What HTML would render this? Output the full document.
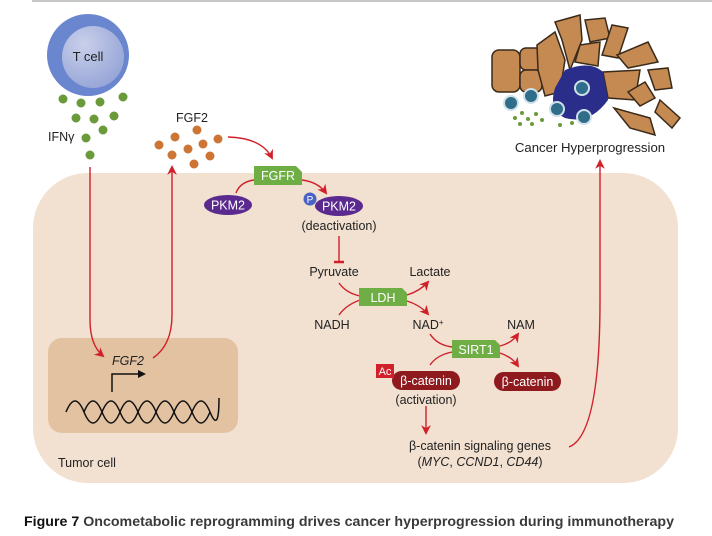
<!DOCTYPE html>
<html><head><meta charset="utf-8"><style>
html,body{margin:0;padding:0;background:#fff;}
svg{display:block;font-family:"Liberation Sans",Arial,sans-serif;}
</style></head><body>
<svg width="712" height="536" viewBox="0 0 712 536" xmlns="http://www.w3.org/2000/svg">
<defs>
<radialGradient id="tg" cx="0.35" cy="0.3" r="0.8"><stop offset="0" stop-color="#c9d0ea"/><stop offset="1" stop-color="#93a2d6"/></radialGradient>
<marker id="ah" viewBox="0 0 10 10" refX="8" refY="5" markerWidth="7" markerHeight="7" orient="auto-start-reverse"><path d="M0,0 L10,5 L0,10 L3,5 z" fill="#d0202a"/></marker>
</defs>
<line x1="32" y1="1" x2="712" y2="1" stroke="#c8c8c8" stroke-width="2"/>
<rect x="33" y="173" width="645" height="310" rx="55" fill="#f2e0d0"/>
<rect x="48" y="338" width="190" height="95" rx="14" fill="#e3c2a1"/>
<circle cx="88" cy="55" r="41" fill="#6a86cf"/>
<circle cx="93" cy="57" r="31" fill="url(#tg)"/>
<text x="88" y="61" font-size="13" text-anchor="middle" fill="#222">T cell</text>
<g fill="#6a9a3a">
<circle cx="63" cy="99" r="4.5"/><circle cx="81" cy="103" r="4.5"/><circle cx="100" cy="102" r="4.5"/><circle cx="123" cy="97" r="4.5"/>
<circle cx="76" cy="118" r="4.5"/><circle cx="94" cy="119" r="4.5"/><circle cx="114" cy="116" r="4.5"/><circle cx="103" cy="130" r="4.5"/>
<circle cx="86" cy="138" r="4.5"/><circle cx="90" cy="155" r="4.5"/>
</g>
<text x="48" y="141" font-size="12.5" fill="#222">IFNγ</text>
<text x="176" y="122" font-size="12.5" fill="#222">FGF2</text>
<g fill="#cc7535">
<circle cx="175" cy="137" r="4.5"/><circle cx="197" cy="130" r="4.5"/><circle cx="218" cy="139" r="4.5"/><circle cx="159" cy="145" r="4.5"/>
<circle cx="188" cy="149" r="4.5"/><circle cx="203" cy="144" r="4.5"/><circle cx="172" cy="155" r="4.5"/><circle cx="210" cy="156" r="4.5"/><circle cx="194" cy="164" r="4.5"/>
</g>
<g fill="none" stroke="#d0202a" stroke-width="1.4">
<path d="M228,137 Q262,138 272,158" marker-end="url(#ah)"/>
<path d="M90,167 L90,320 Q90,345 103,356" marker-end="url(#ah)"/>
<path d="M153,358 Q172,345 172,315 L172,167" marker-end="url(#ah)"/>
<path d="M254,180 Q240,182 236,193"/>
<path d="M302,180 Q318,182 326,193" marker-end="url(#ah)"/>
<path d="M339,236 L339,262"/>
<path d="M334,262 L344,262" stroke-width="2.5"/>
<path d="M339,283 Q346,293 360,296"/>
<path d="M339,315 Q346,305 360,300"/>
<path d="M407,295 Q420,291 428,282" marker-end="url(#ah)"/>
<path d="M407,301 Q420,305 428,314" marker-end="url(#ah)"/>
<path d="M430,334 Q437,345 452,347"/>
<path d="M430,365 Q437,355 452,352"/>
<path d="M500,346 Q512,343 518,334" marker-end="url(#ah)"/>
<path d="M500,353 Q512,357 518,366" marker-end="url(#ah)"/>
<path d="M426,406 L426,433" marker-end="url(#ah)"/>
<path d="M569,447 Q600,435 600,300 L600,161" marker-end="url(#ah)"/>
</g>
<path d="M254,166 H296 L302,172 V185 H254 Z" fill="#6fae45"/>
<text x="278" y="180" font-size="12.5" fill="#fff" text-anchor="middle">FGFR</text>
<ellipse cx="228" cy="205" rx="24" ry="10" fill="#5b2a8e"/>
<text x="228" y="209.5" font-size="12.5" fill="#fff" text-anchor="middle">PKM2</text>
<ellipse cx="339" cy="206" rx="24" ry="10" fill="#5b2a8e"/>
<text x="339" y="210.5" font-size="12.5" fill="#fff" text-anchor="middle">PKM2</text>
<circle cx="310" cy="199" r="6.5" fill="#4a62c6"/>
<text x="310" y="203" font-size="10" fill="#fff" text-anchor="middle">P</text>
<text x="339" y="230" font-size="12.5" fill="#222" text-anchor="middle">(deactivation)</text>
<text x="334" y="276" font-size="12.5" fill="#222" text-anchor="middle">Pyruvate</text>
<text x="430" y="276" font-size="12.5" fill="#222" text-anchor="middle">Lactate</text>
<path d="M359,288 H402 L407,293 V306 H359 Z" fill="#6fae45"/>
<text x="383" y="302" font-size="12.5" fill="#fff" text-anchor="middle">LDH</text>
<text x="332" y="329" font-size="12.5" fill="#222" text-anchor="middle">NADH</text>
<text x="428" y="329" font-size="12.5" fill="#222" text-anchor="middle">NAD<tspan font-size="8" dy="-4">+</tspan></text>
<text x="521" y="329" font-size="12.5" fill="#222" text-anchor="middle">NAM</text>
<path d="M452,340 H495 L500,345 V358 H452 Z" fill="#6fae45"/>
<text x="476" y="354" font-size="12.5" fill="#fff" text-anchor="middle">SIRT1</text>
<rect x="392" y="371" width="68" height="19" rx="9.5" fill="#8e1a1e"/>
<text x="426" y="385" font-size="12.5" fill="#fff" text-anchor="middle">β-catenin</text>
<rect x="376" y="364" width="18" height="14" fill="#d0202a"/>
<text x="385" y="375" font-size="11" fill="#fff" text-anchor="middle">Ac</text>
<rect x="494" y="372" width="67" height="19" rx="9.5" fill="#8e1a1e"/>
<text x="527.5" y="386" font-size="12.5" fill="#fff" text-anchor="middle">β-catenin</text>
<text x="426" y="404" font-size="12.5" fill="#222" text-anchor="middle">(activation)</text>
<text x="480" y="450" font-size="12.5" fill="#222" text-anchor="middle">β-catenin signaling genes</text>
<text x="480" y="466" font-size="12.5" fill="#222" text-anchor="middle">(<tspan font-style="italic">MYC</tspan>, <tspan font-style="italic">CCND1</tspan>, <tspan font-style="italic">CD44</tspan>)</text>
<text x="128" y="365" font-size="12.5" font-style="italic" fill="#222" text-anchor="middle">FGF2</text>
<path d="M112,392 V374 H140" fill="none" stroke="#111" stroke-width="1.5"/>
<path d="M146,374 L138,370 L138,378 z" fill="#111"/>
<g fill="none" stroke="#111" stroke-width="1.5">
<path d="M66,412 q9,-22 18,0 t18,0 t18,0 t18,0 t18,0 t18,0 t18,0 t18,0"/>
<path d="M84,412 q9,-22 18,0 t18,0 t18,0 t18,0 t18,0 t18,0 t18,0 t9,-14"/>
</g>
<text x="58" y="467" font-size="12.5" fill="#222">Tumor cell</text>
<g stroke="#3a2a1a" stroke-width="1.5" fill="#c58a52">
<rect x="492" y="50" width="28" height="42" rx="7"/>
<rect x="520" y="48" width="22" height="22" rx="6"/>
<rect x="520" y="70" width="22" height="22" rx="6"/>
<path d="M537,45 L555,32 L565,60 L560,92 L545,96 L538,70 Z"/>
<path d="M555,22 L580,15 L582,40 L570,70 L562,40 Z"/>
<path d="M585,20 L605,18 L610,38 L590,42 Z"/>
<path d="M612,25 L628,28 L618,58 L602,55 Z"/>
<path d="M580,45 L600,42 L598,66 L575,62 Z"/>
<path d="M617,55 L648,42 L658,62 L628,68 Z"/>
<path d="M648,70 L668,68 L672,88 L655,90 Z"/>
<path d="M603,72 L640,70 L635,100 L608,98 Z"/>
<path d="M628,92 L645,82 L655,98 L640,106 Z"/>
<path d="M614,108 L650,118 L655,135 L630,128 Z"/>
<path d="M660,100 L680,118 L672,128 L655,112 Z"/>
</g>
<path d="M565,70 Q590,60 603,72 L608,100 Q590,125 565,118 Q548,110 555,88 Z" fill="#2a2e8a"/>
<g fill="#2f6d8a" stroke="#cfe0ea" stroke-width="2">
<circle cx="511" cy="103" r="7"/><circle cx="531" cy="96" r="7"/><circle cx="557" cy="109" r="7"/><circle cx="584" cy="117" r="7"/><circle cx="582" cy="88" r="7"/>
</g>
<g fill="#6a9a3a">
<circle cx="515" cy="118" r="2"/><circle cx="522" cy="113" r="2"/><circle cx="528" cy="119" r="2"/><circle cx="536" cy="114" r="2"/><circle cx="520" cy="124" r="2"/><circle cx="532" cy="124" r="2"/><circle cx="542" cy="120" r="2"/><circle cx="560" cy="125" r="2"/><circle cx="572" cy="123" r="2"/>
</g>
<text x="590" y="152" font-size="13.2" fill="#222" text-anchor="middle">Cancer Hyperprogression</text>
<text x="24" y="526" font-size="14" font-weight="bold" fill="#111" textLength="650" lengthAdjust="spacingAndGlyphs">Figure 7 <tspan fill="#3a3a3a">Oncometabolic reprogramming drives cancer hyperprogression during immunotherapy</tspan></text>
</svg>
</body></html>
